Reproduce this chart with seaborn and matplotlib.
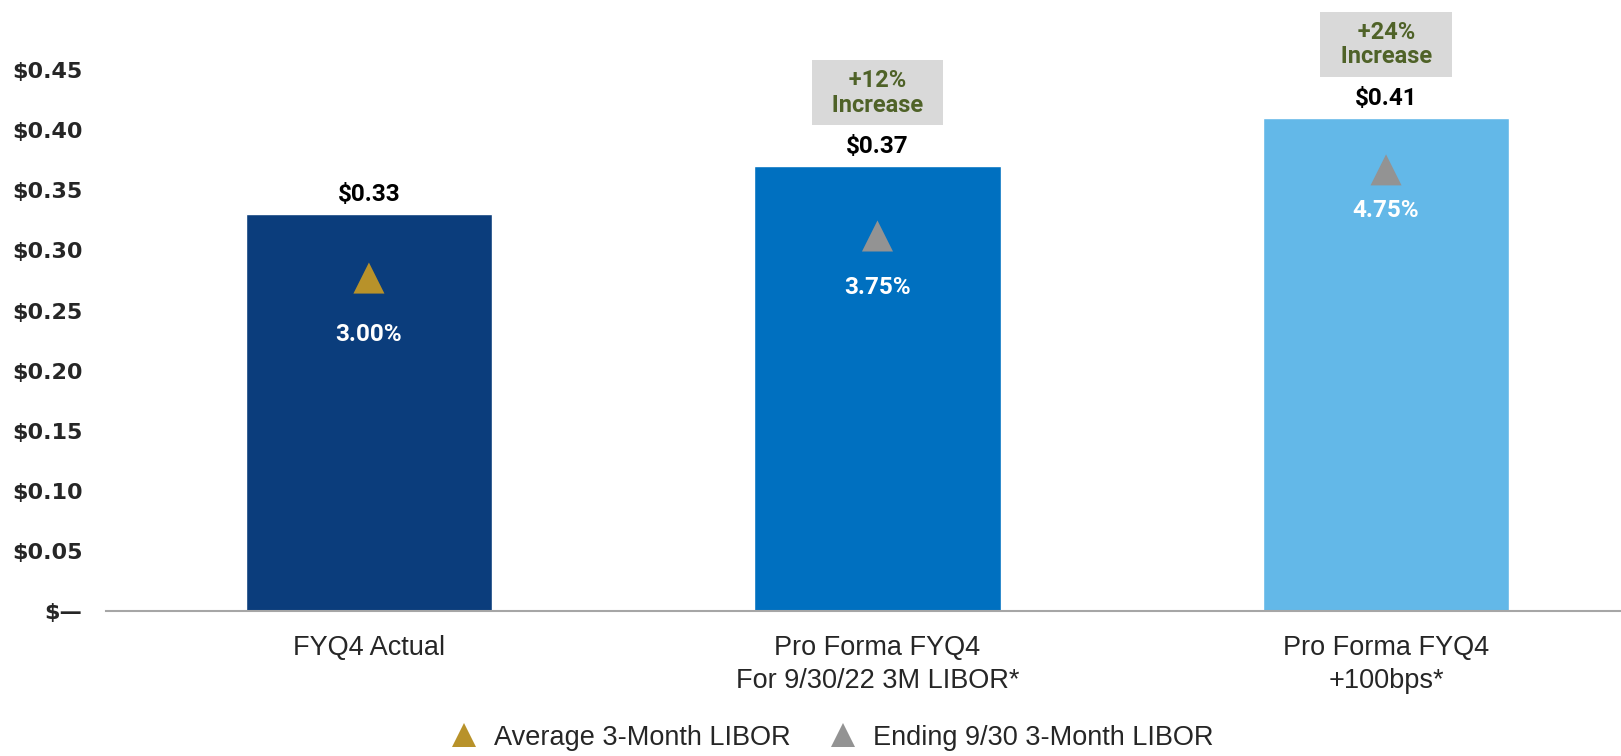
import numpy as np
import pandas as pd
import matplotlib.pyplot as plt
import seaborn as sns

# data
categories = ['FYQ4 Actual', 'Pro Forma FYQ4\nFor 9/30/22 3M LIBOR*', 'Pro Forma FYQ4\n+100bps*']
eps = [0.33, 0.37, 0.41]
bar_colors = ['#0B3D7C', '#0070C0', '#63B8E8']
libor_type = ['Average 3-Month LIBOR', 'Ending 9/30 3-Month LIBOR', 'Ending 9/30 3-Month LIBOR']
libor_labels = ['3.00%', '3.75%', '4.75%']
marker_y = [0.277, 0.312, 0.367]
libor_label_y = [0.230, 0.269, 0.333]
increase_labels = [None, '+12%', '+24%']
yticks = [0.0, 0.05, 0.10, 0.15, 0.20, 0.25, 0.30, 0.35, 0.40, 0.45]

type_colors = {'Average 3-Month LIBOR': '#B8922A', 'Ending 9/30 3-Month LIBOR': '#939393'}

sns.set_style('white')
plt.rcParams['font.family'] = ['Liberation Sans', 'DejaVu Sans']

fig = plt.figure(figsize=(16.21, 7.56), dpi=100)
ax = fig.add_axes([106 / 1621, 1 - 611 / 756, 1 - 106 / 1621, (611 - 10) / 756])

df = pd.DataFrame({'cat': categories, 'eps': eps})
sns.barplot(data=df, x='cat', y='eps', hue='cat', palette=bar_colors,
            saturation=1, width=0.484, legend=False, ax=ax, zorder=2)

pos = np.arange(len(categories))
sns.scatterplot(x=pos, y=marker_y, hue=libor_type, palette=type_colors,
                marker='^', s=500, linewidth=0, ax=ax, zorder=3)

# value labels above bars
for i, v in enumerate(eps):
    ax.annotate(f'${v:.2f}', (pos[i], v), xytext=(0, 14), textcoords='offset points',
                ha='center', va='center', fontsize=17.5, fontweight='bold',
                family='Roboto', color='black')
    ax.text(pos[i], libor_label_y[i], libor_labels[i], ha='center', va='center',
            fontsize=17.5, fontweight='bold', family='Roboto', color='white', zorder=4)
    if increase_labels[i]:
        ax.annotate(f'  {increase_labels[i]}  \n  Increase  ', (pos[i], v),
                    xytext=(0, 53), textcoords='offset points',
                    ha='center', va='center', fontsize=17, fontweight='bold',
                    family='Roboto', color='#4F6228', linespacing=1.1,
                    bbox=dict(boxstyle='square,pad=0.35', fc='#D9D9D9', ec='none'))

ax.set_ylim(0, 0.5)
ax.set_xlim(-0.517, 2.462)
ax.set_yticks(yticks)
ax.set_yticklabels(['$—' if t == 0 else f'${t:.2f}' for t in yticks],
                   fontsize=16, fontweight='bold', family='DejaVu Sans')
ax.tick_params(axis='y', length=0, pad=17)
ax.tick_params(axis='x', length=0, pad=17, labelsize=19.5)
for lbl in ax.get_xticklabels():
    lbl.set_linespacing(1.35)
ax.set_xlabel('')
ax.set_ylabel('')
for s in ['top', 'right', 'left']:
    ax.spines[s].set_visible(False)
ax.spines['bottom'].set_color('#A6A6A6')
ax.spines['bottom'].set_linewidth(1.5)

handles, labels = ax.get_legend_handles_labels()
ax.get_legend().remove()
fig.legend(handles, labels, loc='lower left', bbox_to_anchor=(437 / 1621, -0.011),
           ncol=2, frameon=False, fontsize=19.5, markerscale=0.8, handlelength=1,
           handletextpad=0.6, columnspacing=1.45, borderpad=0)

fig.savefig('out.png', dpi=100)
